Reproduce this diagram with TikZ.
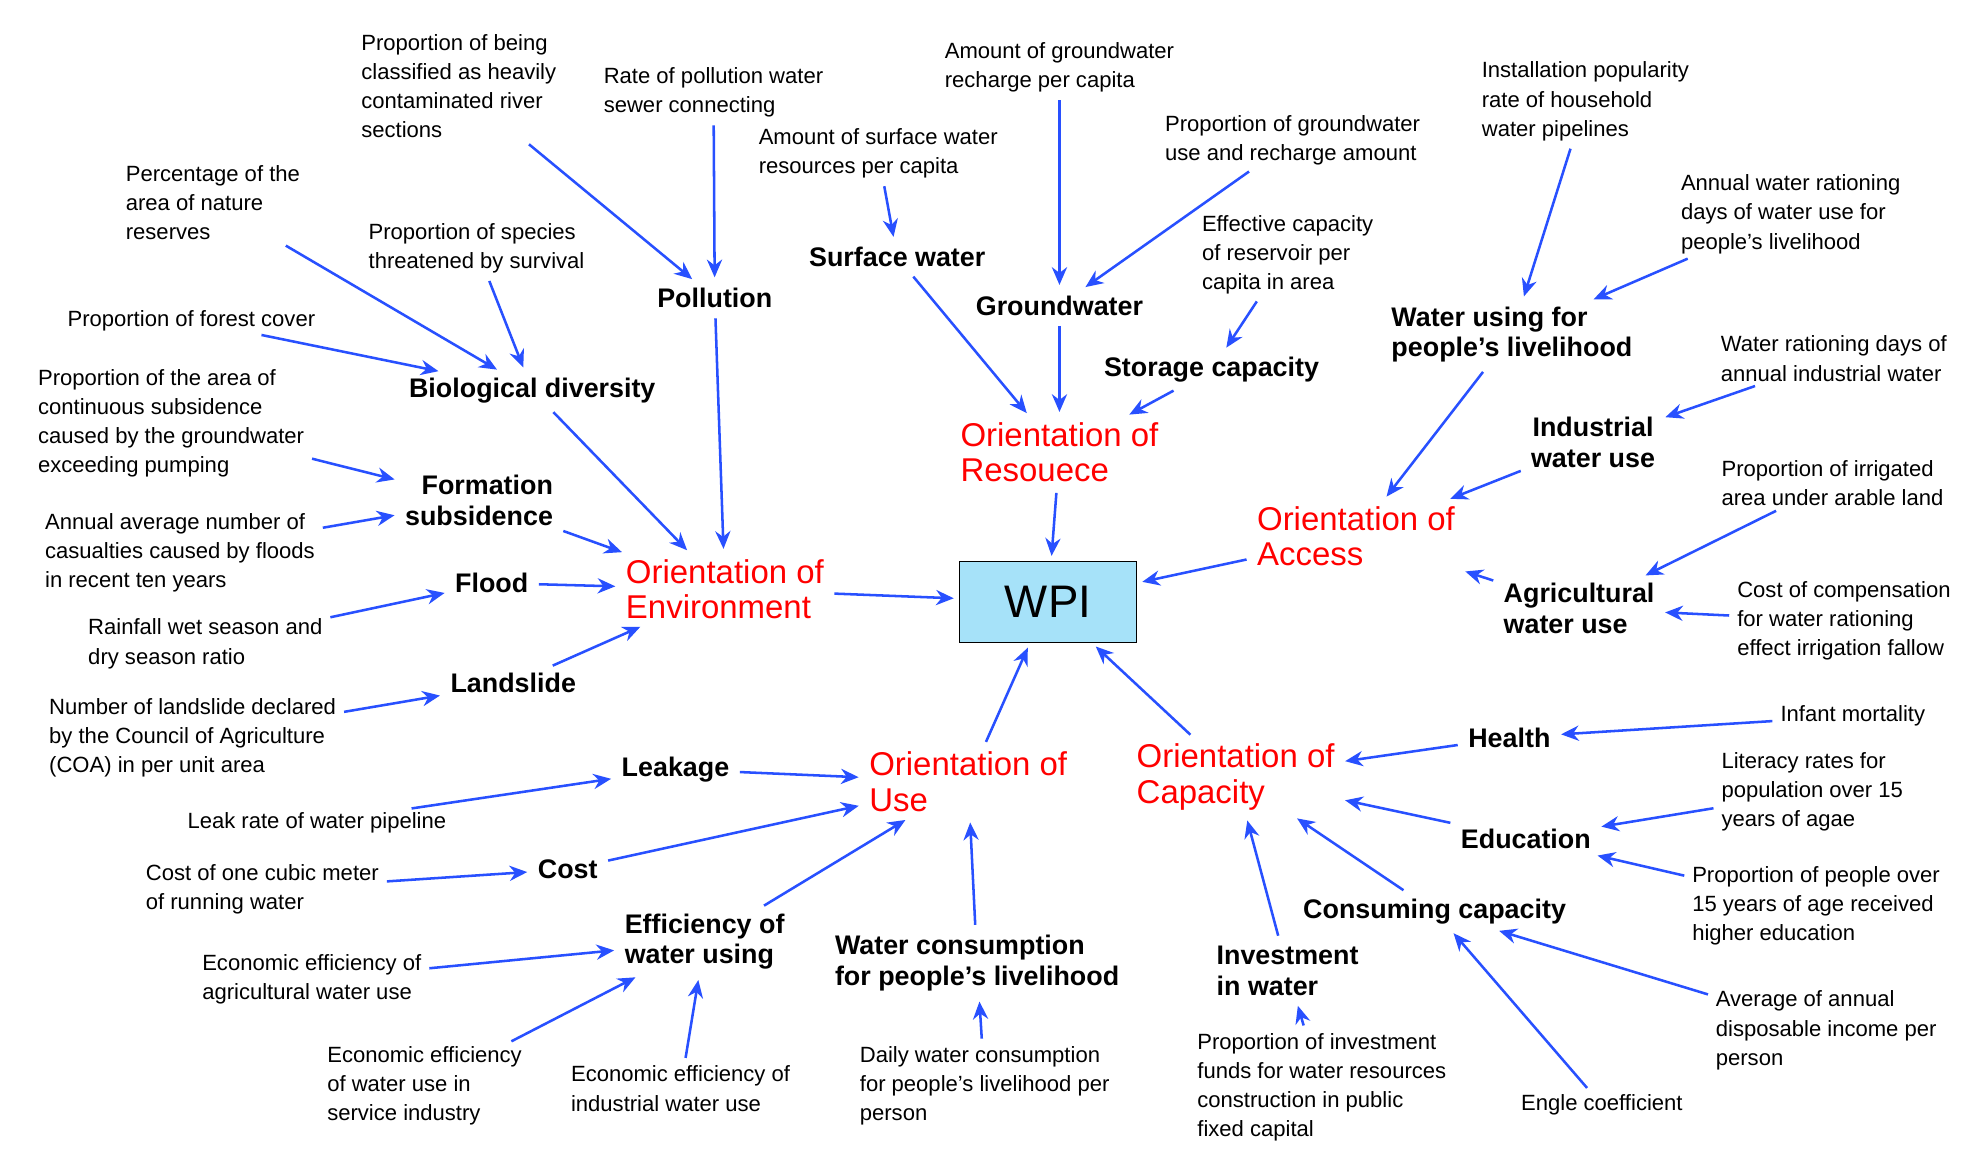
\documentclass[tikz,border=0pt]{standalone}
\usepackage{fontspec}
\setmainfont{Liberation Sans}
\usetikzlibrary{arrows.meta}
\begin{document}
\begin{tikzpicture}[x=0.5pt,y=-0.5pt,
 sm/.style={align=left,inner sep=1pt,font=\fontsize{8.7}{11.5}\selectfont},
 lb/.style={align=left,inner sep=2pt,font=\fontsize{10.6}{12}\selectfont\bfseries},
 rd/.style={align=left,inner sep=2pt,text=red,font=\fontsize{13}{14}\selectfont},
 ar/.style={-{Stealth[length=7pt,width=6pt]},draw={rgb,255:red,40;green,80;blue,255},line width=1pt,shorten >=2pt,shorten <=2pt}]
\fill[white] (0,0) rectangle (1560,918);
\useasboundingbox (0,0) rectangle (1560,918);
\node[draw,fill=cyan!35,minimum width=70pt,minimum height=32pt,font=\fontsize{18}{18}\selectfont] (wpi) at (827,475) {WPI};
% red
\node[rd] (or) at (836,357) {Orientation of\\Resouece};
\node[rd] (oe) at (572,465) {Orientation of\\Environment};
\node[rd] (oa) at (1070,423) {Orientation of\\Access};
\node[rd] (ou) at (764,617) {Orientation of\\Use};
\node[rd] (oc) at (975,613) {Orientation of\\Capacity};
% bold
\node[lb] (pol) at (564,235) {Pollution};
\node[lb] (sw) at (708,203) {Surface water};
\node[lb] (gw) at (836,241) {Groundwater};
\node[lb] (st) at (956,292) {Storage capacity};
\node[lb] (wl) at (1193,264) {Water using for\\people's livelihood};
\node[lb,align=center] (iw) at (1257,349) {Industrial\\water use};
\node[lb] (aw) at (1246,480) {Agricultural\\water use};
\node[lb] (bio) at (420,308) {Biological diversity};
\node[lb,align=right] (fs) at (378,395) {Formation\\subsidence};
\node[lb] (fl) at (388,460) {Flood};
\node[lb] (ls) at (405,539) {Landslide};
\node[lb] (lk) at (533,607) {Leakage};
\node[lb] (co) at (448,686) {Cost};
\node[lb] (ef) at (556,743) {Efficiency of\\water using};
\node[lb] (wc) at (771,760) {Water consumption\\for people's livelihood};
\node[lb] (iv) at (1016,766) {Investment\\in water};
\node[lb] (cc) at (1132,719) {Consuming capacity};
\node[lb] (ed) at (1204,662) {Education};
\node[lb] (he) at (1191,582) {Health};
% small
\node[sm] (t1) at (362,68) {Proportion of being\\classified as heavily\\contaminated river\\sections};
\node[sm] (t2) at (563,73) {Rate of pollution water\\sewer connecting};
\node[sm] (t3) at (693,121) {Amount of surface water\\resources per capita};
\node[sm] (t4) at (836,53) {Amount of groundwater\\recharge per capita};
\node[sm] (t5) at (1020,111) {Proportion of groundwater\\use and recharge amount};
\node[sm] (t6) at (1251,80) {Installation popularity\\rate of household\\water pipelines};
\node[sm] (t7) at (1413,169) {Annual water rationing\\days of water use for\\people's livelihood};
\node[sm] (t8) at (1016,201) {Effective capacity\\of reservoir per\\capita in area};
\node[sm] (t9) at (1447,283) {Water rationing days of\\annual industrial water};
\node[sm] (t10) at (1446,381) {Proportion of irrigated\\area under arable land};
\node[sm] (t11) at (1455,490) {Cost of compensation\\for water rationing\\effect irrigation fallow};
\node[sm] (t12) at (1462,565) {Infant mortality};
\node[sm] (t13) at (1430,625) {Literacy rates for\\population over 15\\years of agae};
\node[sm] (t14) at (1433,715) {Proportion of people over\\15 years of age received\\higher education};
\node[sm] (t15) at (1441,813) {Average of annual\\disposable income per\\person};
\node[sm] (t16) at (1264,872) {Engle coefficient};
\node[sm] (t17) at (1043,858) {Proportion of investment\\funds for water resources\\construction in public\\fixed capital};
\node[sm] (t18) at (777,857) {Daily water consumption\\for people's livelihood per\\person};
\node[sm] (t19) at (537,859) {Economic efficiency of\\industrial water use};
\node[sm] (t20) at (335,857) {Economic efficiency\\of water use in\\service industry};
\node[sm] (t21) at (246,773) {Economic efficiency of\\agricultural water use};
\node[sm] (t22) at (207,702) {Cost of one cubic meter\\of running water};
\node[sm] (t23) at (250,649) {Leak rate of water pipeline};
\node[sm] (t24) at (152,582) {Number of landslide declared\\by the Council of Agriculture\\(COA) in per unit area};
\node[sm] (t25) at (162,508) {Rainfall wet season and\\dry season ratio};
\node[sm] (t26) at (142,436) {Annual average number of\\casualties caused by floods\\in recent ten years};
\node[sm] (t27) at (135,334) {Proportion of the area of\\continuous subsidence\\caused by the groundwater\\exceeding pumping};
\node[sm] (t28) at (151,253) {Proportion of forest cover};
\node[sm] (t29) at (168,160) {Percentage of the\\area of nature\\reserves};
\node[sm] (t30) at (376,196) {Proportion of species\\threatened by survival};
% arrows
\foreach \a/\b in {t1/pol,t2/pol,t3/sw,t4/gw,t5/gw,t8/st,t6/wl,t7/wl,t9/iw,t10/aw,t11/aw,
 sw/or,gw/or,st/or,or/wpi,wl/oa,iw/oa,aw/oa,oa/wpi,
 pol/oe,bio/oe,fs/oe,fl/oe,ls/oe,oe/wpi,t29/bio,t30/bio,t28/bio,t27/fs,t26/fs,t25/fl,t24/ls,
 lk/ou,co/ou,ef/ou,wc/ou,ou/wpi,t23/lk,t22/co,t21/ef,t20/ef,t19/ef,t18/wc,
 he/oc,ed/oc,cc/oc,iv/oc,oc/wpi,t12/he,t13/ed,t14/ed,t15/cc,t16/cc,t17/iv}
 \draw[ar] (\a) -- (\b);
\end{tikzpicture}
\end{document}
